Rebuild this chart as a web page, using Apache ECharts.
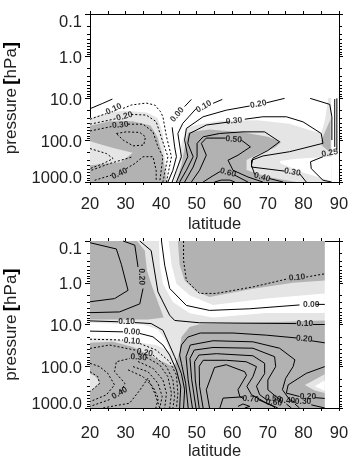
<!DOCTYPE html>
<html>
<head>
    <title>pressure latitude sections</title>
    <meta charset="utf-8">
    <script src="https://cdn.jsdelivr.net/npm/echarts@6/dist/echarts.min.js"></script>
    <style>
        html, body { margin: 0; padding: 0; background: #fff; }
        #main { width: 355px; height: 461px; }
    </style>
</head>
<body>
<div id="main"></div>
<script type="text/javascript">
    var decadeTicks = [0.1, 1, 10, 100, 1000];
    var minorTicks = [0.2, 0.3, 0.4, 0.5, 0.6, 0.7, 0.8, 0.9, 2, 3, 4, 5, 6, 7, 8, 9,
        20, 30, 40, 50, 60, 70, 80, 90, 200, 300, 400, 500, 600, 700, 800, 900];

    // upper panel, every point is [latitude, pressure]
    var topLight = [
        [[20, 30], [25, 22], [30, 20], [36, 22], [39, 30], [40.5, 70], [41, 250], [42, 1000], [20, 1000]],
        [[43.5, 1000], [44.8, 400], [45.8, 120], [47.2, 50], [51, 42], [56.5, 35], [67, 34], [76, 41], [83, 63], [85, 70], [86.1, 32], [87, 10], [87.8, 10], [88, 1000]]
    ];
    var topDark = [
        [[20, 46], [25.5, 36], [32, 36], [37, 45], [39, 85], [40.5, 250], [41.5, 1000], [20, 1000]],
        [[44.3, 1000], [45.7, 400], [47, 100], [47.7, 65], [53.5, 56], [63, 65], [70, 84], [73.8, 112], [72, 150], [67, 220], [64, 300], [64, 520], [70, 760], [78, 1000]],
        [[85, 105], [87.6, 32], [87.7, 205], [85.2, 135]]
    ];
    var topLightInDark = [
        [[20, 107], [26, 150], [32, 200], [28.7, 340], [20, 400]]
    ];
    var topWhite = [
        [[73.3, 316], [78, 280], [88, 250], [87.9, 950], [80, 600], [73.5, 360]]
    ];
    var topSolid = [
        [[20, 18], [23.6, 13.4], [26.3, 10.6]],
        [[46.6, 16], [48.5, 10.8]],
        [[43.1, 50], [43.8, 146], [44.3, 250], [43.3, 525], [41.9, 1000]],
        [[54.6, 13.4], [57.2, 10.8]],
        [[49.9, 17.7], [46.1, 40], [44.7, 70], [45.7, 250], [44.3, 525], [43.1, 1000]],
        [[69.6, 13], [74.7, 10.2]],
        [[64.9, 15.5], [58.3, 19.5], [51.8, 28], [47.1, 53], [46.6, 100], [47.5, 250], [45.7, 525], [44.3, 1000]],
        [[63.5, 32], [68.6, 28], [75.2, 28], [79.9, 37], [85, 70], [85.5, 120], [76.1, 190], [68.6, 240], [65.4, 303], [65.4, 440], [74.7, 550]],
        [[78.9, 630], [80.8, 1000]],
        [[59.3, 37], [52.7, 44], [48, 70], [47.5, 120], [49, 250], [47.1, 525], [45.2, 1000]],
        [[46.6, 1000], [49, 440], [50.1, 250], [50.1, 120], [51.8, 84], [56.4, 70], [63, 64], [69.1, 64], [73.3, 110], [70, 178], [65.8, 270], [65.4, 400], [66.3, 660]],
        [[70.5, 830], [74.3, 1000]],
        [[48.5, 1000], [50.8, 525], [52.7, 230], [51.3, 120], [52.7, 90], [58.1, 90]],
        [[62.5, 100], [65.1, 146], [61.6, 230], [58.8, 303], [60.2, 525], [64.4, 760], [68.6, 1000]],
        [[51.8, 1000], [54.6, 708], [56.6, 562]],
        [[60.7, 690], [64.4, 1000]],
        [[55, 1000], [56.9, 900], [59.3, 900], [60.7, 1000]],
        [[81.9, 10.2], [87.4, 14.2], [88, 28], [88, 100]],
        [[88.8, 10.6], [88.8, 146]],
        [[89.4, 10.2], [89.4, 178]],
        [[85.5, 250], [82, 330], [82.2, 480], [85.5, 910], [87.9, 1000]]
    ];
    var topDotted = [
        [[20, 32], [24.6, 23.5]],
        [[29.3, 17.7], [31.6, 14.7], [35.8, 13.2], [38.2, 14.7], [39.8, 21], [40.5, 28], [41.5, 83], [42.9, 250], [41.5, 1000]],
        [[20, 42], [27.4, 31]],
        [[31.6, 24.5], [35.8, 25.5], [38.6, 36.5], [40, 84], [41.9, 250], [40.5, 1000]],
        [[20, 61], [26, 48]],
        [[30.7, 42], [34.9, 42], [37.7, 64], [39.1, 146], [40.5, 250], [39.6, 1000]],
        [[27.4, 70], [30.2, 64], [34, 66], [35.6, 84], [35.1, 132], [32.1, 138], [29.3, 100], [27.4, 70]],
        [[20, 160], [24.6, 210], [26.5, 276], [23.7, 364], [20, 480]],
        [[20.4, 525], [25.5, 364], [32.1, 250]],
        [[21.3, 910], [26, 690]],
        [[30.2, 480], [32.6, 364], [34.9, 250], [37.7, 250], [38.6, 525], [38.6, 980]]
    ];
    var topLabels = [
        [26.7, 18.5, '0.10', 25], [29.7, 27.5, '0.20', 15], [28.5, 44, '0.30', 5], [28.3, 630, '0.40', 25],
        [44.5, 25, '0.00', 50], [52, 16, '0.10', 30], [67.3, 14, '0.20', 10], [60.5, 35, '0.30', 5],
        [60.4, 97, '0.50', -5], [58.8, 600, '0.60', -15], [68.4, 770, '0.40', -15], [76.9, 580, '0.30', -10],
        [87.4, 205, '0.25', 10]
    ];

    // lower panel
    var botLight = [
        [[20, 0.1], [86, 0.1], [86, 1000], [20, 1000]]
    ];
    var botDark = [
        [[20, 0.1], [33.2, 0.1], [35.4, 0.17], [36, 0.5], [37.5, 1.26], [39.6, 3.8], [40.7, 6.8], [36.3, 7.6], [20, 7.6]],
        [[44.7, 0.1], [86, 0.1], [86, 0.88], [77.1, 1], [65.8, 1.4], [53.6, 2.2], [49.9, 1.65], [46.6, 0.88], [45.2, 0.37]],
        [[20, 27.5], [26.5, 26], [32.1, 34.5], [38.6, 65], [43.3, 103], [44.3, 78], [45.2, 45], [45.7, 20], [48, 11.4], [50.8, 9.8], [86, 8], [86, 1000], [20, 1000]]
    ];
    var botLightInDark = [
        [[20, 152], [21.3, 170], [22.7, 234], [21.8, 292], [20, 410]],
        [[86, 155], [80.4, 280], [83.2, 380], [86, 435]]
    ];
    var botWhite = [
        [[86, 215], [83.2, 300], [86, 390]],
        [[39.4, 0.1], [42.1, 0.1], [42.9, 0.36], [44.3, 1.05], [48, 2], [54.6, 3.4], [69.6, 2.4], [86, 1.8], [86, 5.3], [69.6, 5.3], [54.6, 6.8], [48, 5.4], [43.3, 2.9], [40.5, 1.05], [39.6, 0.36]],
        [[20, 9.1], [34.9, 10], [39.1, 13.2], [41, 21.5], [42.6, 45], [38.6, 31], [32.1, 26], [25.5, 21.5], [20, 21.5]]
    ];
    var botSolid = [
        [[20, 0.11], [27.4, 0.155], [28.8, 0.36], [30.7, 1.52], [26.9, 2.4], [20, 2.85]],
        [[29.3, 0.1], [32.6, 0.126], [33.5, 0.42]],
        [[34.9, 1.38], [34, 3.2], [28.3, 5], [20, 5.2]],
        [[34, 0.1], [37.2, 0.17], [39.1, 1.65], [42.4, 6], [43.8, 8], [50.8, 9.1], [78, 9.5]],
        [[82.7, 10], [86, 10]],
        [[40.1, 0.1], [41, 0.38], [42.4, 1.37], [47.1, 3.5], [53.6, 4.6], [64.9, 4.2], [78.9, 3.4]],
        [[83.6, 3.3], [86, 3.3]],
        [[20, 8.2], [27.9, 8.6]],
        [[32.6, 9], [37.2, 9.5], [40.5, 13.7], [43.8, 59], [45.7, 150], [46.6, 365], [46.3, 1000]],
        [[20, 14.4], [29.3, 15]],
        [[34, 16.4], [37.7, 19.7], [40.5, 31], [42.4, 54], [44.3, 124], [45.5, 310], [45.2, 1000]],
        [[86, 27.5], [82.2, 24.5]],
        [[78, 21], [69.6, 18], [60.2, 16], [51, 16], [47.5, 20], [45.7, 31], [45.2, 54], [45.7, 85], [46.9, 255], [47.6, 1000]],
        [[86, 102], [80.8, 148], [75.7, 280], [75.2, 440], [78.9, 530]],
        [[83.2, 565], [86, 590]],
        [[48.8, 1000], [47.6, 212], [47, 59], [48.2, 31], [54.6, 24.5], [65.8, 26], [73.3, 37], [77.6, 70], [77.1, 102], [75, 195], [74.1, 365], [76.1, 630], [77.7, 740]],
        [[82.2, 840], [86, 1000]],
        [[49.8, 1000], [48.6, 212], [48.1, 65], [49.3, 41], [54.6, 35.5], [65.8, 37], [71.9, 59], [72.2, 102], [70, 212], [70, 365], [73.3, 630]],
        [[77.6, 800], [78.9, 1000]],
        [[50.7, 1000], [49.6, 212], [49.4, 78], [50.6, 54], [55.5, 50], [65.8, 56], [69.1, 85], [69.1, 150], [66.8, 300], [67.7, 480], [69.6, 630]],
        [[75.2, 800], [76.6, 1000]],
        [[51.8, 1000], [50.8, 303], [50.7, 100], [51.8, 72], [58.3, 72], [63.9, 78], [66.8, 102], [65.8, 178], [64.1, 303], [65.4, 480], [69.6, 760], [72.8, 1000]],
        [[53.6, 1000], [52.7, 365], [55, 107], [58.3, 92], [63.5, 135], [64, 165], [61.6, 365], [62.1, 530], [63.2, 600]],
        [[67.3, 630], [71.5, 910], [72, 1000]],
        [[56.5, 1000], [57.4, 580], [63, 540]],
        [[61.6, 915], [63, 800], [64.9, 915], [63.5, 1000]]
    ];
    var botDotted = [
        [[46.3, 0.1], [46.3, 0.29], [47.1, 0.88], [50.8, 1.8], [55.5, 1.8], [65.8, 1.26], [75.7, 0.8]],
        [[80.8, 0.73], [86, 0.61]],
        [[20, 22.5], [29.3, 23.6]],
        [[34, 28.5], [38.6, 41], [42.4, 78], [44.3, 162], [44.7, 445], [44.3, 1000]],
        [[20, 37.4], [25.5, 31], [33, 41.5]],
        [[37.7, 54], [41.5, 102], [43.3, 212], [43.8, 530], [43.3, 1000]],
        [[28.8, 405], [29.8, 255], [26.9, 135], [27.4, 78], [27.9, 71], [31.2, 65]],
        [[35.8, 61], [39.6, 93], [41.9, 178], [42.9, 445], [42.4, 1000]],
        [[33.5, 77], [37.7, 112], [40.5, 213], [41.5, 445], [41, 1000]],
        [[32.1, 102], [36.3, 135], [39.1, 255], [40.3, 530], [39.6, 1000]],
        [[30.7, 122], [34.9, 178], [37.7, 310], [39.2, 580], [38.5, 1000]],
        [[25.5, 630], [20, 915]],
        [[20, 85], [22.7, 102], [25, 148], [26.9, 280], [24.6, 485], [20, 705]],
        [[20, 135], [22.2, 178], [22.7, 260], [20, 405]],
        [[23.7, 1000], [27.4, 870], [31.1, 770], [34, 375], [36.3, 193], [38.2, 445], [39.6, 1000]]
    ];
    var botLabels = [
        [34.5, 0.72, '0.20', -88], [30.3, 8.6, '0.10', 0], [31.8, 15, '0.00', -5], [31.8, 25, '0.10', -5],
        [35.4, 47, '0.20', -10], [33.7, 61, '0.30', -5], [28.3, 440, '0.40', 30], [65.2, 610, '0.70', -5],
        [71.5, 600, '0.50', -5], [71.7, 740, '0.60', -5], [75.4, 660, '0.40', 0], [79.9, 700, '0.30', 0],
        [81.3, 530, '0.20', 0], [78.2, 0.75, '0.10', 5], [82.2, 3.4, '0.00', 0], [80.4, 9.3, '0.10', 0],
        [80.2, 22, '0.20', -5]
    ];

    var lightGrey = '#e5e5e5', darkGrey = '#b2b2b2';
    var fontName = '"Liberation Sans", Arial, sans-serif';

    var myChart = echarts.init(document.getElementById('main'), null, {renderer: 'canvas'});

    function fillSeries(polys, color, g) {
        return {
            type: 'custom',
            coordinateSystem: 'cartesian2d',
            xAxisIndex: g * 2,
            yAxisIndex: g * 4,
            silent: true,
            clip: false,
            data: polys.map(function (p, i) { return [i]; }),
            renderItem: function (params, api) {
                var pts = polys[api.value(0)].map(function (d) { return api.coord(d); });
                return {type: 'polygon', shape: {points: pts}, style: {fill: color}};
            }
        };
    }

    function lineSeries(path, dash, g) {
        return {
            type: 'line',
            xAxisIndex: g * 2,
            yAxisIndex: g * 4,
            data: path,
            showSymbol: false,
            symbol: 'none',
            silent: true,
            clip: false,
            lineStyle: {color: '#000', width: 1, type: dash ? [2, 2] : 'solid'}
        };
    }

    function labelSeries(labels, g) {
        return {
            type: 'scatter',
            xAxisIndex: g * 2,
            yAxisIndex: g * 4,
            symbolSize: 1,
            silent: true,
            itemStyle: {color: 'transparent'},
            data: labels.map(function (l) {
                return {
                    value: [l[0], l[1]],
                    label: {
                        show: true, position: 'inside', formatter: l[2], rotate: l[3],
                        color: '#000', fontFamily: fontName, fontSize: 8.5, fontWeight: 'bold'
                    }
                };
            })
        };
    }

    function makeXAxes(g) {
        var base = {
            type: 'value', gridIndex: g, min: 20, max: 90, interval: 5,
            splitLine: {show: false},
            axisLine: {onZero: false, lineStyle: {color: '#000'}},
            axisTick: {length: 3, lineStyle: {color: '#000'}}
        };
        return [
            Object.assign({}, base, {
                position: 'bottom',
                name: 'latitude', nameLocation: 'middle', nameGap: g === 0 ? 34 : 31,
                nameTextStyle: {color: '#222', fontFamily: fontName, fontSize: 16.5},
                axisLabel: {
                    color: '#222', fontFamily: fontName, fontSize: 16.5, margin: g === 0 ? 14 : 17,
                    formatter: function (v) { return v % 10 === 0 ? String(v) : ''; }
                }
            }),
            Object.assign({}, base, {position: 'top', axisLabel: {show: false}})
        ];
    }

    // the ticks sit on plain value axes running over log10(pressure), one per side and length
    function tickAxis(g, side, values, len) {
        return {
            type: 'value', gridIndex: g, min: -1, max: 3, inverse: true, position: side,
            splitLine: {show: false},
            axisLine: {onZero: false, lineStyle: {color: '#000'}},
            axisLabel: {show: false},
            axisTick: {
                show: true, length: len, lineStyle: {color: '#000'},
                customValues: values.map(function (v) { return Math.log10(v); })
            }
        };
    }

    function makeYAxes(g) {
        var labelText = {color: '#222', fontFamily: fontName, fontSize: 16.5};
        return [
            {
                type: 'log', logBase: 10, gridIndex: g, min: 0.1, max: 1000, inverse: true,
                position: 'left',
                splitLine: {show: false},
                axisLine: {onZero: false, lineStyle: {color: '#000'}},
                name: '{p|pressure} {b|[}{p|hPa}{b|]}', nameLocation: 'middle', nameGap: 68,
                nameTextStyle: {
                    rich: {
                        p: {color: '#222', fontFamily: fontName, fontSize: 17},
                        b: {color: '#000', fontFamily: fontName, fontSize: 19, fontWeight: 'bold'}
                    }
                },
                axisTick: {show: true, length: 5, customValues: decadeTicks, lineStyle: {color: '#000'}},
                axisLabel: {
                    color: '#222', fontFamily: fontName, fontSize: 16.5, margin: 8,
                    customValues: decadeTicks,
                    verticalAlignMinLabel: 'top',
                    rich: {
                        t: labelText,
                        m: Object.assign({padding: [4, 0, 0, 0]}, labelText),
                        l: Object.assign({padding: [0, 0, 8, 0]}, labelText)
                    },
                    formatter: function (v) {
                        var key = v >= 1000 ? 'l' : (v < 0.5 ? 't' : 'm');
                        return '{' + key + '|' + Number(v).toFixed(1) + '}';
                    }
                }
            },
            tickAxis(g, 'left', minorTicks, 3),
            tickAxis(g, 'right', decadeTicks, 4),
            tickAxis(g, 'right', minorTicks, 3)
        ];
    }

    var series = [
        fillSeries(topLight, lightGrey, 0),
        fillSeries(topDark, darkGrey, 0),
        fillSeries(topLightInDark, lightGrey, 0),
        fillSeries(topWhite, '#fff', 0),
        fillSeries(botLight, lightGrey, 1),
        fillSeries(botDark, darkGrey, 1),
        fillSeries(botLightInDark, lightGrey, 1),
        fillSeries(botWhite, '#fff', 1)
    ];
    topSolid.forEach(function (p) { series.push(lineSeries(p, false, 0)); });
    topDotted.forEach(function (p) { series.push(lineSeries(p, true, 0)); });
    botSolid.forEach(function (p) { series.push(lineSeries(p, false, 1)); });
    botDotted.forEach(function (p) { series.push(lineSeries(p, true, 1)); });
    series.push(labelSeries(topLabels, 0));
    series.push(labelSeries(botLabels, 1));

    var option = {
        animation: false,
        backgroundColor: '#fff',
        grid: [
            {left: 90, width: 249, top: 14, height: 168, outerBoundsMode: 'none'},
            {left: 90, width: 249, top: 241, height: 167, outerBoundsMode: 'none'}
        ],
        xAxis: makeXAxes(0).concat(makeXAxes(1)),
        yAxis: makeYAxes(0).concat(makeYAxes(1)),
        series: series
    };

    myChart.setOption(option);
</script>
</body>
</html>
